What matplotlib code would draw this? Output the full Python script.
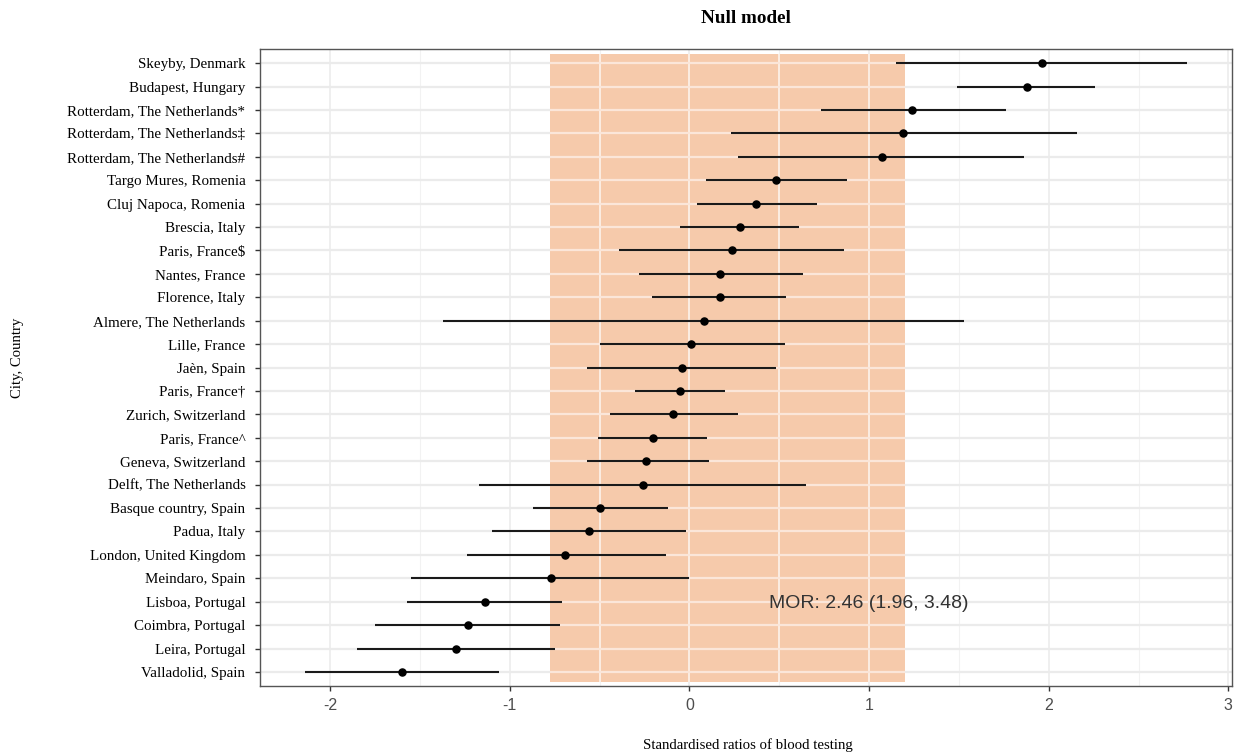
import matplotlib.pyplot as plt

# City labels, top to bottom
cities = [
    "Skeyby, Denmark", "Budapest, Hungary", "Rotterdam, The Netherlands*",
    "Rotterdam, The Netherlands\u2021", "Rotterdam, The Netherlands#",
    "Targo Mures, Romenia", "Cluj Napoca, Romenia", "Brescia, Italy",
    "Paris, France$", "Nantes, France", "Florence, Italy",
    "Almere, The Netherlands", "Lille, France", "Ja\u00e8n, Spain",
    "Paris, France\u2020", "Zurich, Switzerland", "Paris, France^",
    "Geneva, Switzerland", "Delft, The Netherlands", "Basque country, Spain",
    "Padua, Italy", "London, United Kingdom", "Meindaro, Spain",
    "Lisboa, Portugal", "Coimbra, Portugal", "Leira, Portugal",
    "Valladolid, Spain",
]
estimate = [1.96, 1.88, 1.24, 1.19, 1.07, 0.48, 0.37, 0.28, 0.24, 0.17,
            0.17, 0.08, 0.01, -0.04, -0.05, -0.09, -0.20, -0.24, -0.26,
            -0.50, -0.56, -0.69, -0.77, -1.14, -1.23, -1.30, -1.60]
lower = [1.15, 1.49, 0.73, 0.23, 0.27, 0.09, 0.04, -0.05, -0.39, -0.28,
         -0.21, -1.37, -0.50, -0.57, -0.30, -0.44, -0.51, -0.57, -1.17,
         -0.87, -1.10, -1.24, -1.55, -1.57, -1.75, -1.85, -2.14]
upper = [2.77, 2.26, 1.76, 2.16, 1.86, 0.88, 0.71, 0.61, 0.86, 0.63,
         0.54, 1.53, 0.53, 0.48, 0.20, 0.27, 0.10, 0.11, 0.65, -0.12,
         -0.02, -0.13, 0.00, -0.71, -0.72, -0.75, -1.06]
band = (-0.775, 1.2)
mor_text = "MOR: 2.46 (1.96, 3.48)"

n = len(cities)
ypos = [n - i for i in range(n)]
xmajor = [-2, -1, 0, 1, 2, 3]
xminor = [-1.5, -0.5, 0.5, 1.5, 2.5]

fig = plt.figure(figsize=(12.41, 7.56), dpi=100)
ax = fig.add_axes([0.2095, 0.0926, 0.7832, 0.8424])
ax.set_xlim(-2.39, 3.02)
ax.set_ylim(0.4, n + 0.6)

# background grid
for x in xminor:
    ax.axvline(x, color="#F2F2F2", lw=0.8, zorder=0)
for x in xmajor:
    ax.axvline(x, color="#EBEBEB", lw=1.1, zorder=0)
for y in ypos:
    ax.axhline(y, color="#EBEBEB", lw=1.6, zorder=0)

# shaded band
band_lo, band_hi = 0.57, n + 0.38
ax.fill_between(band, band_lo, band_hi, color="#F6CAAB", lw=0, zorder=1)
ax.vlines([x for x in xmajor + xminor if band[0] < x < band[1]],
          band_lo, band_hi, color="#FCEDE3", lw=1.4, zorder=1.5)
ax.hlines(ypos, band[0], band[1], color="#FBE6D9", lw=1.6, zorder=1.5)

# intervals and points
ax.hlines(ypos, lower, upper, color="#1a1a1a", lw=1.5, zorder=3)
ax.scatter(estimate, ypos, s=26, color="black", zorder=4)

ax.text(1.0, ypos[cities.index("Lisboa, Portugal")] - 0.08, mor_text,
        ha="center", va="center", fontsize=14, color="#333333",
        family="Liberation Sans", zorder=5)

ax.set_xticks(xmajor)
ax.set_xticklabels([str(x) for x in xmajor], family="Liberation Sans",
                   fontsize=11.5, color="#4D4D4D")
ax.set_yticks(ypos)
ax.set_yticklabels(cities, family="Liberation Serif", fontsize=10.8)
ax.tick_params(axis="both", length=3.5, width=1, color="#333333")
ax.tick_params(axis="x", pad=5)
ax.tick_params(axis="y", pad=7)
for s in ax.spines.values():
    s.set_color("#555555")
    s.set_linewidth(1)

fig.text(0.601, 0.976, "Null model", ha="center", va="center",
         family="Liberation Serif", fontweight="bold", fontsize=13.8)
fig.text(0.603, 0.0146, "Standardised ratios of blood testing",
         ha="center", va="center", family="Liberation Serif", fontsize=10.6)
fig.text(0.0145, 0.526, "City, Country", ha="center", va="center",
         rotation=90, family="Liberation Serif", fontsize=10.6)

fig.savefig("out.png", dpi=100)
